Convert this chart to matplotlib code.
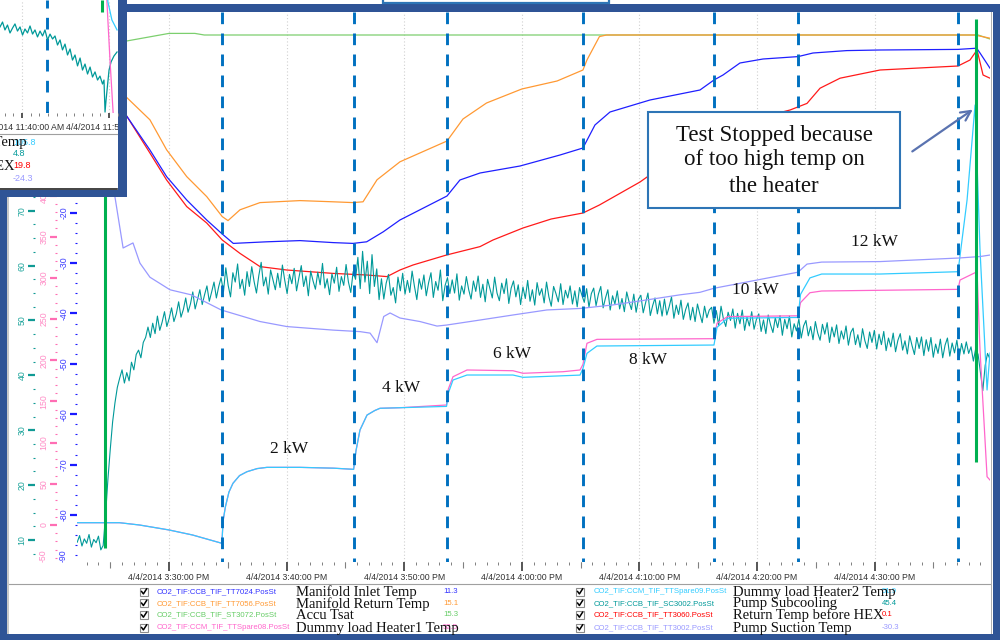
import numpy as np
import matplotlib
matplotlib.use("Agg")
import matplotlib.pyplot as plt
from matplotlib.patches import Rectangle
from matplotlib.ticker import MultipleLocator, FixedLocator, FuncFormatter, NullFormatter

plt.rcParams['font.family'] = ['Liberation Sans', 'DejaVu Sans']
plt.rcParams['axes.unicode_minus'] = False
SERIF = 'Liberation Serif'

W, H = 1000, 640

# ---------------------------------------------------------------- data
# time axis: minutes after 3:00 PM on 4/4/2014
T_LO, T_HI = 22.18, 99.81
major_ticks = [30, 40, 50, 60, 70, 80, 90]
mid_ticks = [25, 35, 45, 55, 65, 75, 85, 95]

# Manifold inlet temperature (deg C)
inlet_t = [22.2, 24.5, 26.40, 28.38, 29.80, 31.51, 33.21, 34.53, 35.47, 38.31, 41.14, 43.95,
           45.65, 46.81, 48.22, 49.64, 53.64, 54.74, 56.45, 59.85, 63.25, 65.20, 66.22, 67.50,
           70.90, 75.15, 76.34, 77.11, 78.55, 80.51, 83.49, 84.76, 87.63, 90.46, 97.09, 98.68,
           98.96, 99.81]
inlet_v = [10.0, 2.0, -5.25, -13.75, -20.4, -26.25, -31.25, -34.75, -37.1, -36.7, -36.4, -36.9,
           -37.1, -36.7, -34.2, -31.25, -25.25, -21.25, -19.5, -17.75, -15.0, -13.25, -7.5, -4.25,
           -1.25, 1.25, 3.75, 5.0, 8.0, 9.0, 9.6, 10.5, 11.1, 11.25, 11.4, 11.7, 10.5, 6.7]

# Manifold return temperature (deg C)
return_t = [22.2, 24.5, 26.40, 28.38, 29.80, 31.51, 33.21, 34.53, 35.02, 36.04, 37.74, 41.14,
            43.95, 45.65, 46.50, 47.69, 49.64, 53.64, 55.0, 57.0, 60.0, 63.0, 65.20, 65.54,
            66.60, 67.20, 98.50, 99.81]
return_v = [14.0, 6.0, -0.6, -6.2, -13.7, -20.4, -25.4, -30.4, -31.4, -28.7, -26.9, -26.4,
            -26.7, -26.9, -26.7, -21.2, -16.7, -11.5, -6.0, -2.0, 1.5, 3.5, 6.25, 8.75,
            14.6, 15.0, 15.0, 14.2]

# Accumulator saturation temperature (deg C)
accu_t = [22.2, 26.40, 30.0, 32.2, 33.0, 98.8, 99.81]
accu_v = [12.0, 13.5, 15.4, 15.4, 15.0, 15.0, 14.0]

# Return temperature before HEX (deg C)
hex_t = [22.2, 24.5, 26.40, 28.38, 29.80, 31.51, 33.21, 34.53, 36.04, 37.74, 40.0, 43.95,
         46.81, 48.54, 49.64, 50.75, 53.60, 56.45, 57.55, 60.10, 62.50, 65.20, 66.60, 70.05,
         70.65, 76.34, 78.0, 80.5, 82.81, 84.25, 85.36, 87.06, 90.46, 97.09, 98.11, 98.71,
         99.22, 99.81]
hex_v = [10.0, 2.0, -5.25, -14.5, -21.25, -27.9, -32.0, -36.25, -39.6, -42.9, -43.75, -44.6,
         -45.0, -45.4, -43.75, -42.5, -40.0, -37.9, -36.25, -33.25, -31.0, -29.5, -27.5, -21.75,
         -20.5, -17.0, -10.0, -5.5, -3.75, -2.1, 1.7, 4.2, 6.25, 7.25, 8.75, 11.25, 5.0, 4.2]

# Dummy load heater temperatures
heater1_t = [22.2, 25.8, 27.5, 30.0, 32.0, 34.50, 34.60, 34.80, 35.10, 35.44, 36.0, 36.63,
             37.5, 38.33, 41.14, 44.0, 45.70, 45.90, 46.24, 46.84, 47.5, 47.94, 49.64, 53.60,
             53.75, 54.15, 55.34, 59.25, 60.10, 63.50, 64.95, 65.20, 65.54, 66.39, 76.34, 76.60,
             77.50, 83.49, 83.70, 84.50, 85.50, 97.09, 97.26, 98.71, 98.96, 99.56, 99.81]
heater1_v = [2.8, 2.8, 0.0, -6.0, -12.1, -22.2, 5.0, 22.2, 40.0, 50.6, 60.0, 64.7,
             68.5, 70.0, 70.0, 69.0, 67.6, 90.0, 115.3, 133.5, 139.0, 141.7, 142.4, 145.7,
             165.0, 180.0, 188.2, 187.3, 184.2, 186.1, 188.2, 195.0, 220.6, 225.4, 226.2, 245.0,
             253.0, 254.0, 270.0, 282.0, 284.1, 286.1, 297.4, 307.5, 212.5, 58.6, 54.6]
heater2_t = [22.2, 25.8, 27.5, 30.0, 32.0, 34.50, 34.60, 34.80, 35.10, 35.44, 36.0, 36.63,
             37.5, 38.33, 41.14, 44.0, 45.70, 45.90, 46.24, 46.84, 47.5, 47.94, 49.64, 53.60,
             53.75, 54.15, 55.34, 59.25, 60.10, 64.95, 65.20, 65.54, 66.39, 76.34, 76.60, 77.50,
             83.49, 83.70, 84.50, 85.50, 90.46, 97.09, 97.86, 98.54, 98.96, 99.56, 99.81]
heater2_v = [2.8, 2.8, 0.0, -6.0, -12.1, -22.2, 5.0, 22.2, 40.0, 50.6, 60.0, 64.7,
             68.5, 70.0, 70.0, 69.0, 67.6, 90.0, 115.3, 133.5, 139.0, 141.7, 142.4, 144.0,
             160.0, 176.0, 182.1, 182.1, 179.3, 182.0, 190.0, 208.4, 217.3, 218.5, 240.0, 251.0,
             252.0, 280.0, 300.0, 304.7, 304.7, 307.5, 394.6, 509.9, 333.9, 163.9, 208.8]

# Pump suction temperature (deg C)
suction_t = [22.2, 24.5, 25.41, 26.10, 26.94, 27.53, 28.38, 30.09, 31.90, 34.44, 37.74, 40.03,
             43.95, 46.24, 47.10, 47.69, 48.26, 48.80, 49.64, 51.34, 52.79, 53.60, 56.45, 59.25,
             62.14, 65.0, 67.76, 70.65, 73.45, 75.15, 76.34, 83.49, 84.25, 85.50, 90.46, 97.09,
             98.96, 99.81]
suction_v = [-8.0, -13.0, -16.9, -27.0, -26.0, -30.0, -32.8, -35.3, -36.3, -39.3, -41.6, -42.6,
             -43.3, -43.6, -43.9, -45.8, -40.6, -39.9, -40.9, -41.6, -42.5, -42.3, -41.3, -40.3,
             -39.3, -39.0, -38.3, -37.3, -36.3, -35.8, -35.0, -31.8, -30.2, -29.8, -29.7, -29.0,
             -28.7, -28.4]

# Pump subcooling (K), logged samples (about every 12 s)
subcool_v = [
    # before start
    9.6, 10.8, 8.9, 10.2, 9.4, 11.0, 8.7, 10.1, 9.5, 10.7, 8.2, 9.0,
    # pump start
    14.5, 21.0, 26.5, 31.5, 35.0, 37.8, 39.5, 41.0, 38.6, 40.5, 39.0, 42.4, 41.0, 43.8, 44.6,
    43.2, 46.0, 46.9,
    48.8, 46.9, 49.5, 47.6, 50.8, 48.2, 49.7, 51.6, 48.9, 50.4, 52.3, 49.8, 51.2, 53.4, 50.6,
    52.0, 54.1, 51.5, 53.0, 55.2, 52.1, 53.8, 55.6, 52.9, 54.7, 56.3, 53.5, 55.2, 57.0, 54.1,
    56.2,
    # 2 kW
    57.8, 55.2, 59.6, 56.4, 54.3, 58.7, 57.0, 60.3, 55.8, 57.5, 54.6, 58.9, 56.2, 59.8, 57.1,
    55.0, 58.2, 60.6, 56.3, 57.9, 54.8, 59.2, 57.4, 55.6, 58.6, 56.0, 60.1, 57.3, 54.9, 58.4,
    56.7, 59.5, 55.4, 57.8, 60.0, 56.2, 58.1, 54.5, 59.0, 57.2, 55.7, 58.8, 56.5, 60.4, 55.9,
    57.6, 54.7, 58.5, 56.8, 59.7, 55.3, 58.0, 56.4, 60.2, 57.0, 55.1, 58.9, 57.5,
    # 4 kW
    61.5, 55.8, 62.6, 57.0, 60.8, 54.9, 62.0, 56.2, 59.4, 53.8,
    57.6, 53.9, 56.8, 58.4, 54.6, 56.0, 53.2, 57.9, 55.4, 58.6,
    54.8, 57.3, 55.1, 59.0, 56.2, 53.8, 57.6, 55.7, 58.3, 54.5,
    56.9, 58.7, 54.2, 57.1, 55.5, 59.2, 53.6, 56.4, 57.8, 54.9,
    # 6 kW
    57.4, 55.0, 58.5, 53.7, 56.3, 54.8, 58.0, 55.6, 53.9, 57.2,
    55.3, 58.1, 54.2, 56.6, 53.4, 57.5, 55.8, 54.1, 57.9, 55.0,
    53.6, 56.8, 54.9, 57.6, 53.1, 55.9, 57.2, 54.3, 56.5, 52.9,
    56.1, 54.0, 57.3, 53.5, 55.6, 52.8, 56.9, 54.6, 55.8, 53.2,
    57.0, 54.3, 52.6, 56.2, 54.9, 53.4, 56.7, 52.9, 55.5, 54.1,
    # 8 kW
    56.3, 53.0, 55.4, 52.5, 56.0, 54.6, 53.3, 55.8, 52.4, 54.9,
    55.9, 52.7, 54.8, 56.2, 52.3, 54.1, 55.6, 51.9, 54.5, 53.0,
    55.4, 52.1, 54.0, 51.6, 55.2, 53.4, 52.0, 54.8, 51.5, 53.9,
    54.6, 51.4, 53.2, 55.0, 50.9, 52.7, 54.1, 51.2, 53.6, 50.8,
    53.9, 51.0, 52.5, 54.3, 50.4, 52.8, 51.1, 53.7, 50.2, 52.0,
    53.2, 50.1, 52.4, 49.8, 53.0, 51.2, 49.6, 52.6, 50.5, 51.9,
    # 10 kW
    52.4, 49.5, 51.8, 49.1, 52.6, 50.3, 48.9, 51.5, 50.0, 52.1,
    48.6, 51.3, 49.4, 51.9, 48.2, 50.6, 49.0, 51.6, 48.4, 50.2,
    51.2, 48.0, 50.1, 47.6, 51.0, 49.2, 47.8, 50.5, 48.7, 50.9,
    47.3, 50.2, 48.5, 50.8, 47.0, 49.4, 48.1, 50.3, 46.8, 49.0,
    # 12 kW
    50.0, 47.2, 48.9, 46.5, 49.8, 47.7, 46.4, 49.3, 47.5, 49.6,
    46.0, 48.8, 47.0, 49.2, 45.8, 48.1, 46.6, 49.0, 45.5, 47.8,
    48.6, 45.6, 47.4, 45.1, 48.5, 46.3, 44.9, 47.9, 46.0, 48.2,
    44.8, 47.5, 45.6, 48.0, 44.5, 46.8, 45.2, 47.7, 44.3, 46.4,
    47.6, 44.6, 46.3, 43.9, 47.2, 45.4, 43.8, 46.9, 44.9, 47.0,
    43.6, 46.5, 44.4, 46.9, 43.3, 45.7, 44.0, 46.6, 43.2, 45.5,
    46.8, 43.5, 45.9, 44.1, 46.4,
    # heater stop
    43.2, 45.8, 43.9, 46.1, 44.0, 45.2, 42.6, 44.9, 43.8, 40.5, 37.2, 41.8, 44.0, 43.0]
subcool_t = np.linspace(22.2, 99.8, len(subcool_v))

# power steps, stop marker and labels
step_times = [34.53, 45.76, 53.61, 65.18, 76.37, 83.51, 97.12]
power_labels = ["2 kW", "4 kW", "6 kW", "8 kW", "10 kW", "12 kW"]
power_label_t = [40.2, 49.7, 59.2, 70.7, 79.9, 90.0]
power_label_row = [449, 388, 353.5, 360, 290, 242.5]

# earlier run (upper-left window)
prev_t = [37.47, 37.76, 38.04, 38.33, 38.62, 38.91, 39.19, 39.48, 39.77, 40.06, 40.34, 40.63,
          40.92, 41.21, 41.49, 41.78, 42.07, 42.36, 42.64, 42.93, 43.22, 43.51, 43.79, 44.08,
          44.37, 44.65, 44.94, 45.23, 45.52, 45.80, 46.09, 46.38, 46.67, 46.95, 47.24, 47.53,
          47.82, 48.10, 48.39, 48.68, 48.96, 49.25, 49.42, 49.54, 49.66, 49.83, 50.00, 50.23,
          50.57, 50.92]
prev_v = [65.7, 68.3, 64.1, 66.7, 62.5, 65.1, 67.3, 63.5, 65.7, 61.4, 64.6, 62.5, 66.2, 61.9,
          64.1, 60.4, 63.5, 60.9, 64.1, 58.8, 61.9, 59.3, 60.9, 56.1, 58.8, 53.5, 56.6, 50.8,
          54.0, 48.1, 50.8, 45.0, 49.2, 42.8, 46.0, 40.7, 44.4, 39.1, 41.8, 37.5, 39.6, 35.4,
          37.5, 20.5, 26.9, 34.9, 42.8, 47.1, 50.3, 52.4]
prev_h1_t = [49.70, 50.11, 50.60]
prev_h1_v = [84.0, 48.1, 10.0]
prev_h2_t = [49.80, 49.87, 50.33, 50.92]
prev_h2_v = [85.0, 79.0, 69.4, 64.1]

# legend
left_tags = ["CO2_TIF:CCB_TIF_TT7024.PosSt", "CO2_TIF:CCB_TIF_TT7056.PosSt",
             "CO2_TIF:CCB_TIF_ST3072.PosSt", "CO2_TIF:CCM_TIF_TTSpare08.PosSt"]
left_desc = ["Manifold Inlet Temp", "Manifold Return Temp", "Accu Tsat", "Dummy load Heater1 Temp"]
left_vals = ["11.3", "15.1", "15.3", "52.5"]
right_tags = ["CO2_TIF:CCM_TIF_TTSpare09.PosSt", "CO2_TIF:CCB_TIF_SC3002.PosSt",
              "CO2_TIF:CCB_TIF_TT3060.PosSt", "CO2_TIF:CCB_TIF_TT3002.PosSt"]
right_desc = ["Dummy load Heater2 Temp", "Pump Subcooling", "Return Temp before HEX", "Pump Suction Temp"]
right_vals = ["51.9", "45.4", "0.1", "-30.3"]
prev_vals = ["105.8", "4.8", "19.8", "-24.3"]

# colours
C_BLUE, C_ORANGE, C_GREEN, C_PINK = '#1f1fff', '#ff9933', '#7ccf6e', '#ff66cc'
C_CYAN, C_TEAL, C_RED, C_LAV = '#33ccff', '#009999', '#ff1a1a', '#9999ff'
left_cols = ['#3333ff', C_ORANGE, '#66cc66', C_PINK]
right_cols = [C_CYAN, C_TEAL, '#ff0000', C_LAV]
FRAME = '#2f5496'
DASH = '#0070c0'
STOP = '#00b050'

# ---------------------------------------------------------------- figure
fig = plt.figure(figsize=(W / 100, H / 100), dpi=100)
fig.patch.set_facecolor('white')

x0, x1, y0, y1 = 77, 990, 12, 562
ax = fig.add_axes([x0 / W, 1 - y1 / H, (x1 - x0) / W, (y1 - y0) / H])
ax.set_xlim(T_LO, T_HI)
ax.set_ylim(-116.75, 20.75)
ax.patch.set_visible(False)
for s in ax.spines.values():
    s.set_visible(False)


def time_label(m, pos=None):
    m = int(round(m))
    return f"4/4/2014 {3 + m // 60}:{m % 60:02d}:00 PM"


ax.xaxis.set_major_locator(FixedLocator(major_ticks))
ax.xaxis.set_minor_locator(MultipleLocator(1))
ax.xaxis.set_major_formatter(FuncFormatter(time_label))
ax.tick_params(axis='x', which='major', length=6.5, width=1.4, color='#555555',
               labelsize=6.3, labelcolor='#333333', pad=1.2)
ax.tick_params(axis='x', which='minor', length=2.4, width=0.7, color='#808080')
ax.grid(axis='x', which='major', color='#d0d0d0', linestyle=(0, (1, 2)), lw=0.8)
sec = ax.secondary_xaxis('bottom')
sec.xaxis.set_major_locator(FixedLocator(mid_ticks))
sec.xaxis.set_major_formatter(NullFormatter())
sec.tick_params(length=4.2, width=0.8, color='#808080')
for s in sec.spines.values():
    s.set_visible(False)

# temperatures on the shared (unlabelled) scale
ax.plot(accu_t, accu_v, color=C_GREEN, lw=0.9)
ax.plot(return_t, return_v, color=C_ORANGE, lw=0.9)
ax.plot(hex_t, hex_v, color=C_RED, lw=0.9)
ax.plot(inlet_t, inlet_v, color=C_BLUE, lw=0.9)
ax.yaxis.set_visible(False)


def scale_axis(outward, tick_color, label_color, majors, minor_step, lims):
    tw = ax.twinx()
    tw.set_ylim(*lims)
    for s in tw.spines.values():
        s.set_visible(False)
    tw.yaxis.tick_left()
    tw.spines['left'].set_position(('outward', outward))
    tw.yaxis.set_major_locator(FixedLocator(majors))
    tw.yaxis.set_minor_locator(MultipleLocator(minor_step))
    tw.yaxis.set_major_formatter(FuncFormatter(lambda v, p: f"{v:.0f}"))
    tw.tick_params(axis='y', which='major', length=5, width=1.6, color=tick_color,
                   labelcolor=label_color, labelsize=6.3, labelrotation=90, pad=1.2)
    tw.tick_params(axis='y', which='minor', length=1.8, width=0.8, color=tick_color)
    return tw


ax_teal = scale_axis(30.2, '#109a94', '#1aa39a', list(range(10, 90, 10)), 2.5, (5.99, 106.21))
ax_pink = scale_axis(14.4, '#ff6eb4', '#ff8cc6', list(range(-50, 450, 50)), 10, (-44.9, 622.8))
ax_lav = scale_axis(0.0, '#1a1aff', '#3a3aff', list(range(-90, 0, 10)), 2, (-89.33, 19.84))
for tw in (ax_teal, ax_pink, ax_lav):
    for lbl in tw.get_yticklabels():
        lbl.set_va('center')

ax_lav.plot(suction_t, suction_v, color=C_LAV, lw=0.9)
ax_teal.plot(subcool_t, subcool_v, color=C_TEAL, lw=0.8)
ax_pink.plot(heater1_t, heater1_v, color=C_PINK, lw=0.9)
ax_pink.plot(heater2_t, heater2_v, color=C_CYAN, lw=0.9)

# annotation layer: x in time, y in screen rows
ax_note = ax.twinx()
ax_note.set_ylim(y1, y0)
ax_note.axis('off')
ax_note.vlines(step_times, y0, y1, colors=DASH, linestyles=(0, (4.0, 3.2)), lw=2.1)
ax_note.vlines([24.6], 195, 548, colors=STOP, lw=2.2)
ax_note.vlines([98.62], 19, 462, colors=STOP, lw=2.2)
for s, t, r in zip(power_labels, power_label_t, power_label_row):
    ax_note.text(t, r, s, family=SERIF, fontsize=12.5, ha='center', va='center', color='#111111')
ax_note.add_patch(Rectangle((70.73, 112), 92.16 - 70.73, 96, facecolor='white',
                            edgecolor='#2e75b6', lw=1.5, zorder=5))
for r, s in zip([135, 160, 187], ["Test Stopped because", "of too high temp on", "the heater"]):
    ax_note.text(81.45, r, s, family=SERIF, fontsize=16.5, ha='center', va='center',
                 color='#111111', zorder=6)
ax_note.annotate('', xy=(98.54, 108), xytext=(93.01, 153),
                 arrowprops=dict(arrowstyle='->,head_length=0.7,head_width=0.35',
                                 color='#5a73b0', lw=1.6), zorder=6)

# ---------------------------------------------------------------- frame / legend layer
ov = fig.add_axes([0, 0, 1, 1], zorder=20)
ov.set_xlim(0, W)
ov.set_ylim(H, 0)
ov.axis('off')


def box(x, y, w, h, fc, ec='none', lw=0):
    ov.add_patch(Rectangle((x, y), w, h, facecolor=fc, edgecolor=ec, lw=lw))


box(127, 4, 873, 8, FRAME)          # top band
box(993, 4, 7, 636, FRAME)          # right band
box(0, 634, 1000, 6, FRAME)         # bottom band
box(0, 190, 7, 450, FRAME)          # left band
box(7, 197, 2, 437, '#c8c8c8')
box(990.5, 12, 1.2, 622, '#b0b0b0')
box(383, -4, 226, 7, 'white', '#2e75b6', 1.6)
ov.plot([9, 990], [583.5, 583.5], color='#a0a0a0', lw=0.8)

# lowest scale values are printed at the foot of their scales
ov.text(43, 556, "-50", rotation=90, color='#ff8cc6', fontsize=6.3, ha='center', va='center')
ov.text(63, 556, "-90", rotation=90, color='#3a3aff', fontsize=6.3, ha='center', va='center')

rows_y = [591.7, 603.3, 615.0, 627.7]


def legend_column(x_box, x_tag, x_desc, x_val, tags, descs, vals, cols, rows, boxes=True,
                  val_size=5.6):
    for y, tag, desc, val, c in zip(rows, tags, descs, vals, cols):
        if boxes:
            ov.add_patch(Rectangle((x_box, y - 4), 8, 8, facecolor='white',
                                   edgecolor='#8c8c8c', lw=0.8))
            ov.plot([x_box + 1.6, x_box + 3.4, x_box + 6.6], [y - 0.2, y + 2.2, y - 2.8],
                    color='black', lw=1.1)
            ov.text(x_tag, y, tag, color=c, fontsize=5.6, va='center', ha='left')
        ov.text(x_val, y, val, color=c, fontsize=val_size, va='center', ha='left')
        ov.text(x_desc, y + 0.5, desc, family=SERIF, fontsize=10.5, va='center', ha='left',
                color='#111111')


legend_column(140, 157, 296, 443, left_tags, left_desc, left_vals, left_cols, rows_y)
legend_column(576, 594, 733, 882, right_tags, right_desc, right_vals, right_cols, rows_y)

# earlier-run window in the upper left corner
box(0, 0, 118, 190, 'white')
ov.plot([0, 117], [133.5, 133.5], color='#a0a0a0', lw=0.8)
ov.plot([0, 117], [188.5, 188.5], color='#222222', lw=1.2)
box(118, 0, 9, 197, FRAME)
box(0, 190, 127, 7, FRAME)
legend_column(0, 0, -136, 13, right_tags, right_desc, prev_vals, right_cols,
              [y - 449.7 for y in rows_y], boxes=False, val_size=6.5)

ax_in = fig.add_axes([0, 1 - 113 / H, 118 / W, 113 / H], zorder=21)
ax_in.set_xlim(37.47, 51.03)
ax_in.set_ylim(20, 80)
for s in ax_in.spines.values():
    s.set_visible(False)
ax_in.yaxis.set_visible(False)
ax_in.xaxis.set_major_locator(FixedLocator([40, 50]))
ax_in.xaxis.set_minor_locator(MultipleLocator(1))
ax_in.tick_params(axis='x', which='major', length=3.5, width=1.4, color='#555555', labelbottom=False)
ax_in.tick_params(axis='x', which='minor', length=2.2, width=0.7, color='#808080')
ax_in.grid(axis='x', which='major', color='#d0d0d0', linestyle=(0, (1, 2)), lw=0.8)
ax_in.vlines([42.87], 20, 80, colors=DASH, linestyles=(0, (4.0, 3.2)), lw=2.1)
ax_in.vlines([49.2], 73.6, 80, colors=STOP, lw=2.2)
ax_in.plot(prev_t, prev_v, color=C_TEAL, lw=0.9)
ax_in.plot(prev_h1_t, prev_h1_v, color=C_PINK, lw=0.9)
ax_in.plot(prev_h2_t, prev_h2_v, color=C_CYAN, lw=0.9)
clip_rect = Rectangle((0, 0), 118, 190, transform=ov.transData)
for t, s in zip([40, 50], ["4/4/2014 11:40:00 AM", "4/4/2014 11:50:00 AM"]):
    txt = ax_in.text(t, -0.125, s, transform=ax_in.get_xaxis_transform(), ha='center',
                     va='center', fontsize=6.3, color='#333333', clip_on=True)
    txt.set_clip_path(clip_rect)

fig.savefig('out.png', dpi=100)
